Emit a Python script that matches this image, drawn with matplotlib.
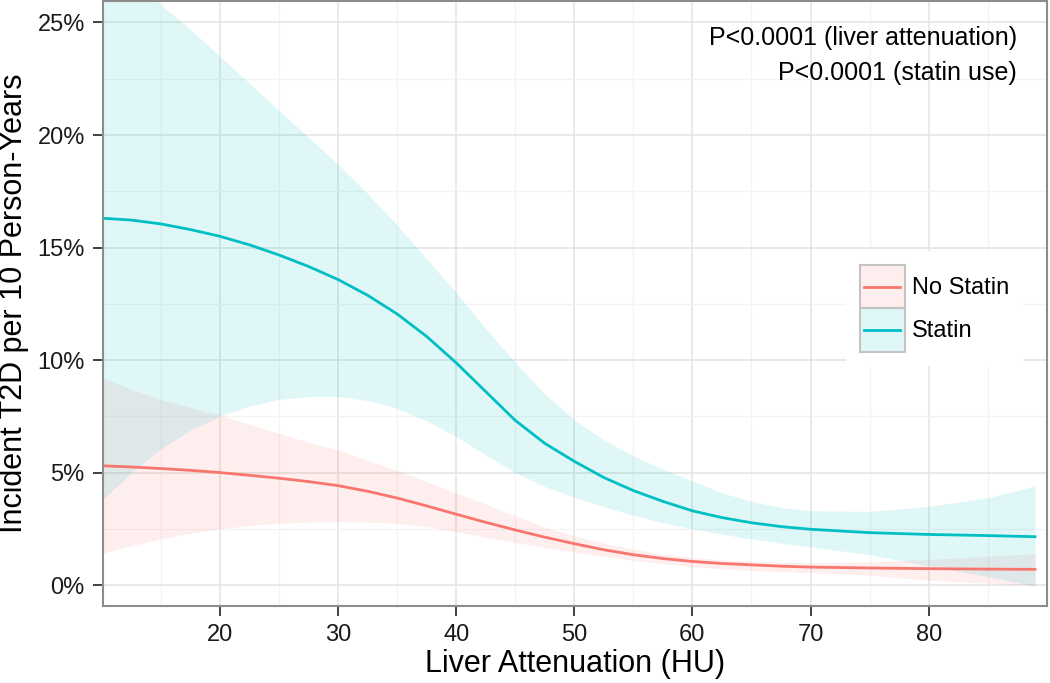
import numpy as np
import matplotlib.pyplot as plt
from matplotlib.patches import Patch, Rectangle
from matplotlib.lines import Line2D
from matplotlib.ticker import FuncFormatter, MultipleLocator, FixedLocator

plt.rcParams['font.family'] = ['Liberation Sans', 'DejaVu Sans']

# liver attenuation (HU)
hu = [10.1, 12.5, 15, 17.5, 20, 22.5, 25, 27.5, 30, 32.5, 35, 37.5, 40, 42.5, 45,
      47.5, 50, 52.5, 55, 57.5, 60, 62.5, 65, 67.5, 70, 75, 80, 85, 89]

# incident T2D per 10 person-years (%), statin users
statin = [16.3, 16.22, 16.05, 15.8, 15.5, 15.12, 14.67, 14.16, 13.58, 12.88, 12.05,
          11.05, 9.88, 8.6, 7.32, 6.3, 5.5, 4.78, 4.2, 3.72, 3.3, 3.0, 2.77, 2.6, 2.48,
          2.33, 2.25, 2.2, 2.15]
statin_hi = [28.1, 27.0, 25.8, 24.7, 23.5, 22.3, 21.1, 19.9, 18.7, 17.4, 16.0, 14.5,
             13.0, 11.4, 9.9, 8.5, 7.35, 6.45, 5.75, 5.15, 4.62, 4.1, 3.72, 3.45, 3.3,
             3.28, 3.5, 3.88, 4.4]
statin_lo = [3.8, 5.0, 6.05, 6.88, 7.5, 7.95, 8.25, 8.38, 8.38, 8.2, 7.85, 7.3, 6.6,
             5.78, 5.0, 4.38, 3.9, 3.48, 3.1, 2.77, 2.5, 2.26, 2.05, 1.86, 1.7, 1.35,
             0.85, 0.38, -0.05]

# no statin
nostatin = [5.3, 5.25, 5.18, 5.1, 5.0, 4.88, 4.75, 4.6, 4.42, 4.17, 3.87, 3.52, 3.15,
            2.79, 2.45, 2.13, 1.84, 1.57, 1.35, 1.18, 1.05, 0.96, 0.9, 0.84, 0.8, 0.76,
            0.73, 0.71, 0.7]
nostatin_hi = [9.2, 8.7, 8.25, 7.9, 7.55, 7.15, 6.75, 6.35, 6.0, 5.55, 5.1, 4.6, 4.1,
               3.6, 3.07, 2.58, 2.18, 1.86, 1.6, 1.38, 1.22, 1.12, 1.06, 1.02, 0.99,
               1.03, 1.14, 1.28, 1.4]
nostatin_lo = [1.42, 1.75, 2.05, 2.3, 2.5, 2.65, 2.75, 2.8, 2.82, 2.8, 2.75, 2.6, 2.37,
               2.12, 1.9, 1.67, 1.47, 1.28, 1.1, 0.95, 0.82, 0.72, 0.65, 0.6, 0.56, 0.44,
               0.22, 0.08, 0.0]

red = '#F8766D'
teal = '#00BFC4'
alpha = 0.12


class KeyHandler:
    # ggplot-like legend key: filled square with a line through the middle
    def __init__(self, color):
        self.color = color

    def legend_artist(self, legend, orig_handle, fontsize, handlebox):
        x0, y0 = -handlebox.xdescent, -handlebox.ydescent
        w, h = handlebox.width, handlebox.height
        tr = handlebox.get_transform()
        rect = Rectangle((x0, y0), w, h, facecolor=orig_handle.get_facecolor(),
                         edgecolor='#C4C4C4', lw=1.5, transform=tr)
        line = Line2D([x0 + 0.1 * w, x0 + 0.9 * w], [y0 + h / 2] * 2,
                      color=self.color, lw=2.0, transform=tr)
        handlebox.add_artist(rect)
        handlebox.add_artist(line)
        return rect


fig = plt.figure(figsize=(10.5, 6.83), dpi=100)
ax = fig.add_axes([0.098, 0.1127, 0.899, 0.886])

ax.fill_between(hu, nostatin_lo, nostatin_hi, color=red, alpha=alpha, lw=0)
ax.fill_between(hu, statin_lo, statin_hi, color=teal, alpha=alpha, lw=0)
ax.plot(hu, nostatin, color=red, lw=2.0)
ax.plot(hu, statin, color=teal, lw=2.0)

ax.set_xlim(10.1, 90)
ax.set_ylim(-0.93, 25.96)
ax.xaxis.set_major_locator(FixedLocator([20, 30, 40, 50, 60, 70, 80]))
ax.xaxis.set_minor_locator(FixedLocator([15, 25, 35, 45, 55, 65, 75, 85]))
ax.yaxis.set_major_locator(MultipleLocator(5))
ax.yaxis.set_minor_locator(MultipleLocator(2.5))
ax.yaxis.set_major_formatter(FuncFormatter(lambda v, p: '%d%%' % v))

ax.grid(which='major', color='#E3E3E3', lw=1.1)
ax.grid(which='minor', color='#F3F3F3', lw=0.9)
ax.set_axisbelow(True)
ax.tick_params(which='major', direction='out', length=7, width=1.3, color='#333333',
               labelsize=17, labelcolor='#1a1a1a', pad=6)
ax.tick_params(which='minor', length=0)
for s in ax.spines.values():
    s.set_color('#8c8c8c')
    s.set_linewidth(1.5)

ax.set_xlabel('Liver Attenuation (HU)', fontsize=22, labelpad=2)
ax.set_ylabel('Incident T2D per 10 Person-Years', fontsize=22, labelpad=6)

ax.text(0.968, 0.938, 'P<0.0001 (liver attenuation)', transform=ax.transAxes,
        ha='right', va='center', fontsize=18)
ax.text(0.968, 0.881, 'P<0.0001 (statin use)', transform=ax.transAxes,
        ha='right', va='center', fontsize=18)

key_red = Patch(facecolor=(248/255, 118/255, 109/255, alpha))
key_teal = Patch(facecolor=(0, 191/255, 196/255, alpha))
leg = ax.legend([key_red, key_teal], ['No Statin', 'Statin'],
                handler_map={key_red: KeyHandler(red), key_teal: KeyHandler(teal)},
                loc='center', bbox_to_anchor=(0.881, 0.492), fontsize=17,
                handlelength=1.9, handleheight=2.45, labelspacing=0.0, handletextpad=0.3,
                borderpad=0.6, frameon=True, fancybox=False)
leg.get_frame().set_facecolor('white')
leg.get_frame().set_edgecolor('none')
leg.get_frame().set_alpha(1)

fig.savefig('out.png', dpi=100)
